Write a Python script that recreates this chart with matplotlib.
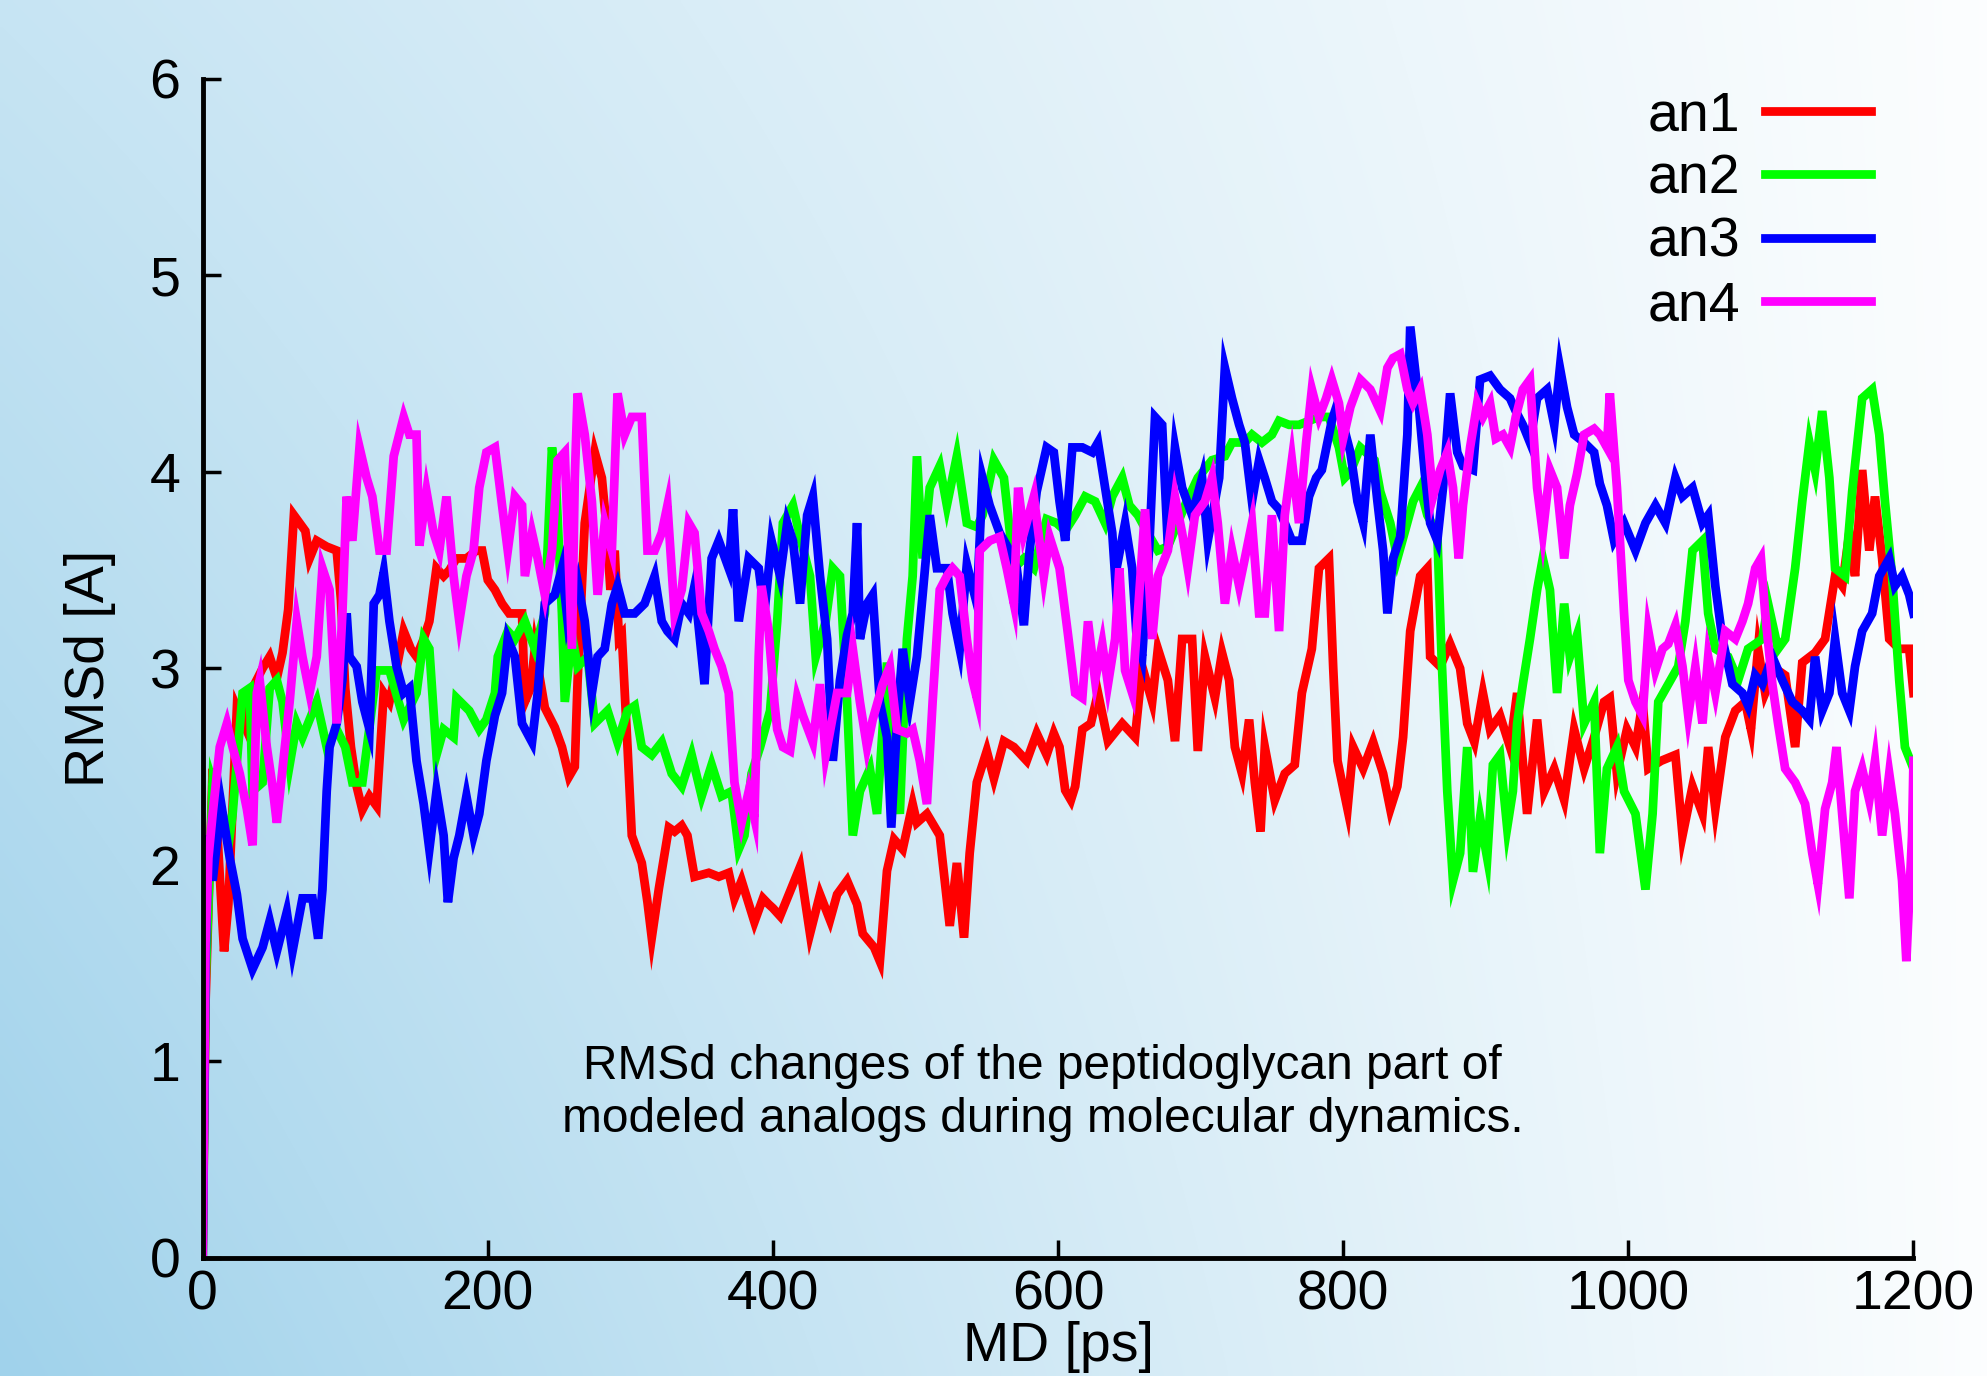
import numpy as np
import matplotlib
matplotlib.use("Agg")
import matplotlib.pyplot as plt

plt.rcParams["font.family"] = ["Liberation Sans", "DejaVu Sans"]

# time [ps], RMSd [A]
an1 = np.array([
    [0, 0.0], [2, 1.3], [5, 2.0], [7, 2.49], [10, 2.2], [15, 1.56], [18, 1.8], [24, 2.8], [30, 2.7],
    [35, 2.9], [42, 3.0], [47, 3.06], [52, 2.95], [56, 3.08], [60, 3.3], [64, 3.78], [68, 3.74],
    [72, 3.7], [75, 3.56], [80, 3.65], [87, 3.62], [94, 3.6], [97, 3.35], [100, 2.9], [104, 2.6],
    [108, 2.4], [112, 2.28], [117, 2.35], [122, 2.3], [127, 2.875], [131, 2.83], [136, 3.0],
    [141, 3.19], [146, 3.1], [150, 3.06], [155, 3.15], [159, 3.24], [164, 3.51], [169, 3.47],
    [173, 3.5], [178, 3.56], [185, 3.56], [192, 3.6], [196, 3.6], [200, 3.45], [205, 3.4],
    [210, 3.33], [215, 3.28], [224, 3.28], [226, 2.83], [230, 2.9], [233, 3.1], [240, 2.8],
    [247, 2.7], [252, 2.6], [257, 2.45], [261, 2.5], [263, 2.94], [268, 3.74], [275, 4.1],
    [280, 3.97], [283, 3.74], [286, 3.4], [289, 3.6], [292, 3.15], [294, 3.17], [298, 2.6],
    [301, 2.15], [308, 2.01], [312, 1.81], [315, 1.63], [320, 1.88], [327, 2.19], [331, 2.17],
    [336, 2.2], [340, 2.15], [345, 1.94], [355, 1.96], [362, 1.94], [369, 1.96], [373, 1.83],
    [378, 1.92], [387, 1.71], [393, 1.83], [397, 1.8], [400, 1.78], [405, 1.74], [414, 1.9],
    [419, 1.99], [426, 1.65], [433, 1.85], [440, 1.72], [445, 1.85], [452, 1.92], [459, 1.8],
    [463, 1.65], [471, 1.58], [475, 1.51], [480, 1.97], [485, 2.13], [491, 2.08], [498, 2.31],
    [501, 2.215], [508, 2.26], [517, 2.15], [524, 1.69], [529, 2.01], [534, 1.63], [538, 2.06],
    [543, 2.42], [550, 2.58], [555, 2.44], [562, 2.63], [569, 2.6], [578, 2.53], [585, 2.67],
    [592, 2.56], [597, 2.67], [601, 2.6], [605, 2.38], [609, 2.33], [612, 2.4], [617, 2.69],
    [623, 2.72], [628, 2.875], [635, 2.63], [645, 2.72], [654, 2.65], [659, 3.01], [666, 2.83],
    [670, 3.1], [677, 2.94], [682, 2.63], [687, 3.15], [694, 3.15], [698, 2.58], [703, 3.06],
    [710, 2.85], [715, 3.08], [720, 2.94], [724, 2.6], [729, 2.465], [734, 2.74], [738, 2.42],
    [742, 2.17], [745, 2.6], [752, 2.33], [759, 2.465], [766, 2.51], [771, 2.875], [778, 3.1],
    [783, 3.51], [790, 3.56], [793, 3.0], [796, 2.53], [803, 2.285], [807, 2.6], [814, 2.49],
    [821, 2.625], [828, 2.465], [833, 2.285], [838, 2.4], [842, 2.65], [847, 3.19], [854, 3.47],
    [859, 3.51], [861, 3.06], [868, 3.01], [875, 3.125], [882, 3.0], [887, 2.72], [892, 2.625],
    [898, 2.875], [903, 2.69], [910, 2.76], [917, 2.6], [922, 2.875], [929, 2.26], [936, 2.74],
    [941, 2.375], [948, 2.49], [955, 2.33], [962, 2.69], [969, 2.49], [976, 2.65], [983, 2.83],
    [987, 2.85], [992, 2.465], [999, 2.69], [1005, 2.6], [1010, 2.83], [1014, 2.49], [1023, 2.53],
    [1033, 2.56], [1038, 2.15], [1045, 2.4], [1052, 2.26], [1056, 2.6], [1061, 2.285],
    [1068, 2.65], [1075, 2.785], [1082, 2.83], [1086, 2.69], [1091, 3.1], [1096, 2.875],
    [1103, 3.0], [1110, 2.965], [1117, 2.6], [1122, 3.03], [1131, 3.08], [1138, 3.15],
    [1145, 3.47], [1150, 3.42], [1155, 3.69], [1159, 3.47], [1164, 4.01], [1169, 3.6],
    [1173, 3.875], [1178, 3.56], [1183, 3.15], [1190, 3.1], [1197, 3.1], [1200, 2.875],
])

an2 = np.array([
    [0, 0.0], [2, 1.4], [5, 2.0], [7, 2.42], [12, 2.3], [19, 2.15], [21, 2.26], [28, 2.875],
    [33, 2.9], [35, 2.375], [42, 2.42], [47, 2.9], [52, 2.94], [56, 2.83], [61, 2.51], [66, 2.72],
    [70, 2.65], [80, 2.83], [87, 2.6], [94, 2.69], [100, 2.6], [105, 2.42], [112, 2.42],
    [117, 2.7], [122, 2.99], [131, 2.99], [141, 2.74], [150, 2.875], [155, 3.15], [159, 3.1],
    [164, 2.56], [169, 2.69], [176, 2.65], [178, 2.85], [187, 2.785], [194, 2.69], [199, 2.74],
    [205, 2.875], [207, 3.06], [214, 3.19], [219, 3.15], [226, 3.24], [233, 3.1], [240, 3.28],
    [245, 4.125], [248, 3.92], [252, 3.28], [254, 2.83], [259, 3.17], [263, 3.01], [270, 3.06],
    [275, 2.72], [284, 2.785], [291, 2.625], [298, 2.785], [303, 2.81], [308, 2.6], [315, 2.56],
    [322, 2.625], [329, 2.465], [336, 2.4], [343, 2.56], [350, 2.35], [357, 2.51], [364, 2.35],
    [371, 2.375], [376, 2.08], [380, 2.15], [385, 2.465], [391, 2.6], [398, 2.785], [403, 3.24],
    [407, 3.74], [414, 3.83], [419, 3.67], [426, 3.47], [430, 3.06], [437, 3.24], [442, 3.51],
    [447, 3.47], [452, 2.83], [456, 2.15], [461, 2.375], [468, 2.49], [473, 2.26], [480, 3.03],
    [484, 2.6], [489, 2.26], [494, 3.15], [498, 3.47], [501, 4.08], [505, 3.56], [510, 3.92],
    [517, 4.03], [522, 3.83], [529, 4.08], [536, 3.74], [543, 3.72], [547, 3.78], [555, 4.06],
    [562, 3.97], [569, 3.51], [576, 3.56], [583, 3.51], [592, 3.76], [599, 3.74], [605, 3.7],
    [612, 3.78], [619, 3.875], [626, 3.85], [633, 3.74], [638, 3.875], [645, 3.97], [650, 3.83],
    [656, 3.78], [662, 3.7], [670, 3.6], [677, 3.62], [689, 3.83], [698, 3.97], [708, 4.06],
    [717, 4.08], [722, 4.15], [731, 4.15], [736, 4.19], [743, 4.15], [750, 4.19], [755, 4.26],
    [762, 4.24], [769, 4.24], [776, 4.26], [783, 4.28], [790, 4.28], [797, 4.125], [801, 3.97],
    [805, 4.0], [812, 4.125], [822, 4.06], [826, 3.9], [833, 3.74], [838, 3.56], [843, 3.69],
    [849, 3.85], [854, 3.92], [859, 3.78], [866, 3.69], [869, 3.06], [873, 2.375], [877, 1.92],
    [882, 2.06], [887, 2.6], [891, 1.965], [896, 2.24], [901, 2.035], [905, 2.51], [910, 2.56],
    [915, 2.19], [919, 2.375], [922, 2.72], [926, 2.92], [931, 3.15], [936, 3.4], [940, 3.56],
    [945, 3.4], [950, 2.875], [955, 3.33], [959, 3.06], [964, 3.17], [969, 2.72], [976, 2.83],
    [980, 2.06], [985, 2.49], [992, 2.6], [997, 2.375], [1005, 2.26], [1012, 1.875],
    [1017, 2.26], [1021, 2.83], [1028, 2.92], [1035, 3.01], [1040, 3.24], [1045, 3.6],
    [1052, 3.65], [1056, 3.28], [1061, 3.1], [1070, 3.06], [1077, 2.94], [1084, 3.1],
    [1094, 3.15], [1098, 3.33], [1105, 3.1], [1110, 3.15], [1117, 3.51], [1122, 3.85],
    [1127, 4.15], [1131, 4.01], [1136, 4.31], [1141, 3.97], [1145, 3.51], [1152, 3.47],
    [1157, 3.9], [1164, 4.375], [1171, 4.42], [1176, 4.19], [1180, 3.85], [1185, 3.47],
    [1190, 2.94], [1194, 2.6], [1200, 2.49],
])

an3 = np.array([
    [0, 0.0], [2, 1.5], [4, 2.15], [7, 1.92], [13, 2.31], [19, 2.035], [24, 1.85], [28, 1.625],
    [35, 1.47], [42, 1.58], [47, 1.715], [52, 1.56], [59, 1.76], [63, 1.56], [70, 1.83],
    [77, 1.83], [81, 1.625], [84, 1.875], [87, 2.375], [89, 2.6], [94, 2.72], [98, 2.94],
    [101, 3.28], [103, 3.06], [108, 3.01], [112, 2.83], [117, 2.69], [120, 3.33], [124, 3.375],
    [127, 3.49], [131, 3.24], [136, 3.01], [141, 2.875], [145, 2.9], [150, 2.53], [155, 2.31],
    [159, 2.08], [164, 2.375], [169, 2.15], [172, 1.81], [176, 2.035], [180, 2.15], [185, 2.35],
    [190, 2.15], [194, 2.26], [199, 2.53], [205, 2.76], [210, 2.875], [214, 3.15], [219, 3.06],
    [224, 2.72], [231, 2.625], [235, 2.875], [240, 3.33], [247, 3.375], [252, 3.51], [256, 3.24],
    [263, 3.44], [268, 3.24], [273, 2.875], [277, 3.06], [282, 3.1], [287, 3.33], [291, 3.42],
    [296, 3.28], [303, 3.28], [310, 3.33], [317, 3.47], [322, 3.24], [326, 3.19], [331, 3.15],
    [336, 3.33], [341, 3.28], [345, 3.42], [352, 2.92], [357, 3.56], [362, 3.65], [369, 3.51],
    [372, 3.81], [376, 3.24], [383, 3.56], [390, 3.51], [394, 3.28], [399, 3.65], [405, 3.47],
    [410, 3.74], [414, 3.65], [419, 3.33], [424, 3.78], [428, 3.875], [433, 3.47], [438, 3.15],
    [442, 2.53], [447, 2.94], [452, 3.17], [456, 3.28], [459, 3.74], [461, 3.15], [466, 3.33],
    [470, 3.375], [475, 2.83], [480, 2.65], [483, 2.19], [487, 2.72], [491, 3.1], [496, 2.83],
    [501, 3.06], [505, 3.375], [510, 3.78], [515, 3.51], [522, 3.51], [526, 3.28], [531, 3.1],
    [536, 3.53], [543, 3.33], [547, 3.97], [552, 3.83], [559, 3.69], [566, 3.6], [571, 3.51],
    [576, 3.22], [580, 3.6], [585, 3.9], [592, 4.125], [597, 4.1], [601, 3.85], [605, 3.65],
    [610, 4.125], [617, 4.125], [624, 4.1], [628, 4.15], [633, 3.92], [638, 3.69], [640, 3.47],
    [647, 3.74], [652, 3.51], [655, 3.17], [659, 3.06], [664, 3.625], [668, 4.28], [673, 4.24],
    [677, 3.625], [682, 4.125], [687, 3.92], [694, 3.78], [701, 3.97], [705, 3.65], [713, 3.97],
    [717, 4.53], [722, 4.375], [727, 4.24], [731, 4.15], [736, 3.85], [741, 4.06], [745, 3.97],
    [750, 3.85], [755, 3.81], [759, 3.74], [764, 3.65], [771, 3.65], [776, 3.875], [781, 3.97],
    [785, 4.01], [792, 4.26], [796, 4.35], [800, 4.24], [805, 4.1], [810, 3.85], [814, 3.74],
    [819, 4.19], [824, 3.85], [828, 3.6], [831, 3.28], [835, 3.56], [840, 3.67], [845, 4.19],
    [847, 4.74], [852, 4.42], [857, 4.01], [861, 3.74], [866, 3.65], [870, 3.92], [875, 4.4],
    [880, 4.1], [884, 4.03], [891, 4.01], [896, 4.47], [903, 4.49], [910, 4.42], [917, 4.375],
    [921, 4.31], [926, 4.24], [931, 4.15], [936, 4.375], [943, 4.42], [948, 4.24], [952, 4.53],
    [957, 4.33], [962, 4.19], [969, 4.15], [976, 4.1], [980, 3.94], [985, 3.83], [990, 3.65],
    [997, 3.74], [1005, 3.6], [1012, 3.74], [1019, 3.83], [1026, 3.74], [1033, 3.97],
    [1038, 3.875], [1045, 3.92], [1052, 3.74], [1056, 3.78], [1061, 3.42], [1066, 3.15],
    [1073, 2.92], [1080, 2.875], [1084, 2.81], [1089, 2.965], [1094, 2.92], [1101, 3.06],
    [1108, 2.94], [1115, 2.83], [1122, 2.785], [1127, 2.74], [1131, 3.06], [1136, 2.785],
    [1141, 2.875], [1145, 3.15], [1150, 2.875], [1155, 2.785], [1159, 3.01], [1164, 3.19],
    [1171, 3.28], [1176, 3.47], [1183, 3.56], [1187, 3.42], [1192, 3.47], [1197, 3.375],
    [1200, 3.28],
])

an4 = np.array([
    [0, 0.0], [2, 1.6], [4, 2.035], [7, 2.26], [12, 2.6], [17, 2.72], [21, 2.6], [26, 2.465],
    [31, 2.285], [35, 2.1], [38, 2.875], [40, 2.94], [45, 2.6], [49, 2.4], [52, 2.215],
    [56, 2.49], [61, 2.83], [66, 3.24], [70, 3.06], [75, 2.875], [80, 3.06], [84, 3.51],
    [89, 3.4], [94, 2.72], [98, 3.28], [101, 3.875], [105, 3.65], [110, 4.125], [115, 3.97],
    [119, 3.875], [124, 3.6], [129, 3.6], [134, 4.08], [141, 4.28], [145, 4.19], [150, 4.19],
    [152, 3.625], [157, 3.9], [162, 3.69], [166, 3.6], [171, 3.875], [176, 3.47], [180, 3.24],
    [185, 3.47], [190, 3.6], [194, 3.92], [199, 4.1], [205, 4.125], [210, 3.83], [214, 3.6],
    [219, 3.875], [224, 3.83], [226, 3.47], [231, 3.69], [235, 3.56], [240, 3.375], [245, 3.6],
    [249, 4.06], [254, 4.1], [259, 3.1], [261, 3.97], [263, 4.4], [268, 4.19], [273, 3.85],
    [277, 3.375], [282, 3.74], [287, 3.6], [291, 4.4], [296, 4.19], [301, 4.28], [308, 4.28],
    [312, 3.6], [317, 3.6], [322, 3.69], [326, 3.83], [331, 3.28], [336, 3.4], [341, 3.74],
    [345, 3.69], [350, 3.28], [355, 3.19], [359, 3.1], [364, 3.01], [369, 2.875], [373, 2.42],
    [378, 2.215], [383, 2.375], [387, 2.24], [390, 3.06], [392, 3.42], [397, 3.19], [401, 2.83],
    [403, 2.69], [407, 2.6], [412, 2.58], [417, 2.85], [421, 2.76], [428, 2.625], [433, 2.92],
    [437, 2.56], [445, 2.875], [452, 2.875], [456, 3.1], [461, 2.83], [466, 2.6], [470, 2.74],
    [477, 2.92], [482, 3.01], [487, 2.69], [494, 2.67], [498, 2.69], [503, 2.53], [508, 2.31],
    [512, 2.83], [517, 3.4], [522, 3.47], [526, 3.51], [531, 3.47], [536, 3.15], [540, 2.94],
    [543, 2.85], [545, 3.6], [552, 3.65], [559, 3.67], [564, 3.51], [569, 3.33], [572, 3.92],
    [576, 3.69], [583, 3.875], [590, 3.47], [594, 3.67], [601, 3.51], [603, 3.4], [607, 3.17],
    [612, 2.875], [617, 2.85], [621, 3.24], [626, 2.94], [631, 3.125], [635, 2.92], [640, 3.15],
    [643, 3.51], [647, 2.99], [652, 2.875], [656, 3.28], [661, 3.81], [666, 3.15], [670, 3.47],
    [677, 3.6], [682, 3.875], [687, 3.69], [691, 3.51], [696, 3.78], [703, 3.85], [708, 3.97],
    [712, 3.74], [717, 3.33], [722, 3.6], [727, 3.42], [731, 3.56], [736, 3.74], [741, 3.28],
    [745, 3.28], [750, 3.78], [755, 3.19], [759, 3.78], [764, 4.06], [769, 3.74], [774, 4.15],
    [778, 4.42], [783, 4.28], [788, 4.375], [792, 4.47], [797, 4.35], [800, 4.17], [805, 4.33],
    [812, 4.47], [819, 4.42], [826, 4.31], [831, 4.53], [835, 4.58], [840, 4.6], [845, 4.42],
    [849, 4.35], [854, 4.42], [859, 4.19], [863, 3.875], [868, 4.01], [873, 4.1], [877, 3.92],
    [881, 3.56], [884, 3.83], [889, 4.125], [894, 4.35], [898, 4.28], [903, 4.35], [907, 4.17],
    [912, 4.19], [917, 4.125], [921, 4.28], [926, 4.42], [931, 4.47], [936, 3.92], [940, 3.69],
    [945, 4.01], [950, 3.92], [955, 3.56], [959, 3.83], [964, 3.99], [969, 4.19], [976, 4.22],
    [980, 4.19], [985, 4.125], [987, 4.4], [992, 3.92], [997, 3.28], [1000, 2.94], [1005, 2.83],
    [1010, 2.76], [1014, 3.19], [1019, 2.99], [1024, 3.1], [1028, 3.125], [1033, 3.22],
    [1038, 3.01], [1042, 2.76], [1047, 3.01], [1052, 2.72], [1056, 3.06], [1061, 2.875],
    [1068, 3.19], [1075, 3.15], [1080, 3.24], [1084, 3.33], [1089, 3.51], [1093, 3.56],
    [1096, 3.28], [1101, 2.92], [1105, 2.72], [1110, 2.49], [1117, 2.42], [1124, 2.31],
    [1129, 2.06], [1133, 1.9], [1138, 2.285], [1143, 2.42], [1146, 2.6], [1150, 2.26],
    [1155, 1.83], [1159, 2.375], [1164, 2.49], [1169, 2.33], [1173, 2.53], [1178, 2.15],
    [1183, 2.465], [1187, 2.26], [1192, 1.92], [1195, 1.51], [1199, 2.15], [1200, 2.53],
])

series = [("an1", an1, "#ff0000"), ("an2", an2, "#00ff00"),
          ("an3", an3, "#0000ff"), ("an4", an4, "#ff00ff")]

x_ticks = [0, 200, 400, 600, 800, 1000, 1200]
y_ticks = [0, 1, 2, 3, 4, 5, 6]
note = "RMSd changes of the peptidoglycan part of\nmodeled analogs during molecular dynamics."

fig = plt.figure(figsize=(19.87, 13.76), dpi=100)

# light blue -> white background
bg = fig.add_axes([0, 0, 1, 1], zorder=-10)
u = np.linspace(0, 1, 400)[None, :]
v = np.linspace(1, 0, 300)[:, None]
w = (1 - u) * (0.58 + 0.42 * (1 - v)) * 0.97 + 0.03
blue = np.array([160, 210, 235]) / 255.0
img = (1 - w[..., None]) * 1.0 + w[..., None] * blue
bg.imshow(img, aspect="auto", extent=[0, 1, 0, 1], interpolation="bilinear")
bg.axis("off")

ax = fig.add_axes([0.102, 0.0858, 0.861, 0.8568])
ax.set_facecolor("none")

for name, d, c in series:
    ax.plot(d[:, 0], d[:, 1], color=c, lw=6.3, label=name, solid_joinstyle="miter")

ax.set_xlim(0, 1200)
ax.set_ylim(0, 6)
ax.set_xticks(x_ticks)
ax.set_yticks(y_ticks)
for s in ["top", "right"]:
    ax.spines[s].set_visible(False)
for s in ["left", "bottom"]:
    ax.spines[s].set_linewidth(3.5)
ax.tick_params(direction="in", length=13, width=2.5, labelsize=40)
ax.tick_params(axis="y", pad=16)
ax.tick_params(axis="x", pad=8)

ax.set_xlabel("MD [ps]", fontsize=40, labelpad=0)
ax.set_ylabel("RMSd [A]", fontsize=40, labelpad=24)

ax.text(589, 0.84, note, ha="center", va="center", fontsize=34.5, linespacing=1.25)

ax.legend(loc="upper right", bbox_to_anchor=(0.975, 0.99), frameon=False,
          markerfirst=False, fontsize=40, handlelength=1.9, handletextpad=0.45,
          labelspacing=0.2, borderpad=0, borderaxespad=0)

fig.savefig("out.png", dpi=100)
